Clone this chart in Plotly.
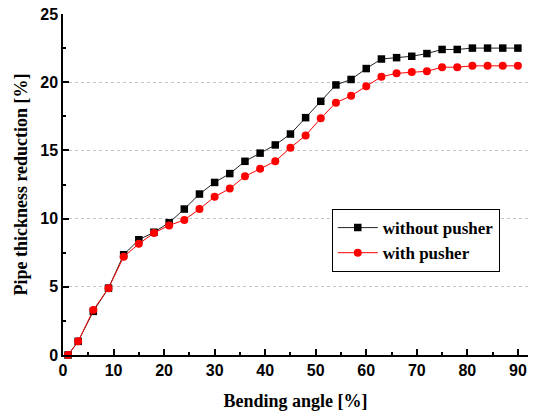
import plotly.graph_objects as go

bending_angle = [1, 3, 6, 9, 12, 15, 18, 21, 24, 27, 30, 33, 36, 39, 42, 45,
                 48, 51, 54, 57, 60, 63, 66, 69, 72, 75, 78, 81, 84, 87, 90]
without_pusher = [0, 1.0, 3.2, 4.9, 7.35, 8.45, 9.0, 9.7, 10.7, 11.8, 12.65, 13.3,
                  14.2, 14.8, 15.4, 16.2, 17.4, 18.6, 19.8, 20.2, 21.0, 21.7,
                  21.8, 21.9, 22.1, 22.4, 22.4, 22.5, 22.5, 22.5, 22.5]
with_pusher = [0, 1.0, 3.3, 4.9, 7.2, 8.15, 8.95, 9.5, 9.9, 10.7, 11.6, 12.2,
               13.1, 13.65, 14.2, 15.2, 16.1, 17.35, 18.5, 19.0, 19.7, 20.4,
               20.65, 20.75, 20.8, 21.1, 21.1, 21.2, 21.2, 21.2, 21.2]
x_ticks = [0, 10, 20, 30, 40, 50, 60, 70, 80, 90]
y_ticks = [0, 5, 10, 15, 20, 25]

fig = go.Figure()
fig.add_trace(go.Scatter(
    x=bending_angle, y=without_pusher, name="without pusher",
    mode="lines+markers",
    line=dict(color="#222222", width=1),
    marker=dict(symbol="square", size=7.5, color="black"),
    cliponaxis=False,
))
fig.add_trace(go.Scatter(
    x=bending_angle, y=with_pusher, name="with pusher",
    mode="lines+markers",
    line=dict(color="red", width=1),
    marker=dict(symbol="circle", size=8, color="red"),
    cliponaxis=False,
))

tick_font = dict(family="Liberation Sans, Arial", size=16, color="black", weight="bold")
serif = "Liberation Serif, Times New Roman"

fig.update_layout(
    width=535, height=414,
    margin=dict(l=63, r=7, t=14, b=59),
    paper_bgcolor="white", plot_bgcolor="white",
    showlegend=True,
    legend=dict(
        x=0.578, y=0.428, xanchor="left", yanchor="top",
        bordercolor="black", borderwidth=1, bgcolor="white",
        font=dict(family=serif, size=17, color="black", weight="bold"),
        tracegroupgap=0, itemwidth=40,
    ),
    xaxis=dict(
        range=[0, 92], tickvals=x_ticks, automargin=False,
        showline=True, linecolor="black", linewidth=1.5,
        ticks="inside", ticklen=6, tickwidth=1.5, tickcolor="black",
        minor=dict(dtick=5, ticks="inside", ticklen=3, tickwidth=1.5, tickcolor="black"),
        showgrid=False, zeroline=False,
        tickfont=tick_font,
        title=dict(text="Bending angle [%]",
                   font=dict(family=serif, size=18, color="black", weight="bold"),
                   standoff=16),
    ),
    yaxis=dict(
        range=[0, 25], tickvals=y_ticks, automargin=False,
        showline=True, linecolor="black", linewidth=1.5,
        ticks="inside", ticklen=6, tickwidth=1.5, tickcolor="black",
        minor=dict(dtick=2.5, ticks="inside", ticklen=3, tickwidth=1.5, tickcolor="black",
                   showgrid=False),
        showgrid=True, gridcolor="#c4c4c4", griddash="dot", gridwidth=1,
        zeroline=False,
        tickfont=tick_font,
        title=dict(text="Pipe thickness reduction [%]\u00a0\u00a0\u00a0\u00a0",
                   font=dict(family=serif, size=18, color="black", weight="bold"),
                   standoff=8),
    ),
)

fig.write_html("out.html", config={"displayModeBar": False},
               post_script="document.body.style.margin='0';")
